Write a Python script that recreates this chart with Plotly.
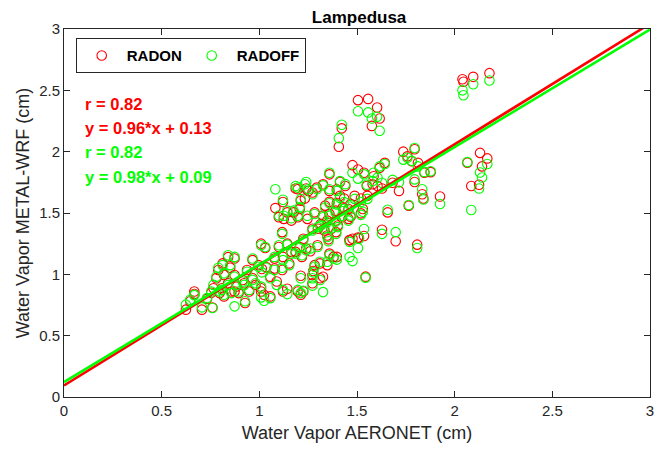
import plotly.graph_objects as go

# Water vapor (cm): AERONET observation vs METAL-WRF runs
aeronet = [2.04, 2.045, 2.095, 2.178, 1.505, 1.557, 1.603, 1.616, 1.576, 1.422, 1.407,
           2.13, 2.167, 2.065, 2.14, 2.125, 2.085, 1.925,
           1.737, 1.795, 1.758, 1.78, 1.812, 1.795, 1.845, 1.877, 1.834, 1.84, 1.765, 1.808,
           1.698, 1.628, 1.657, 1.715, 1.682, 1.642, 1.616,
           1.477, 1.505, 1.536, 1.585, 1.58, 1.605, 1.55, 1.628, 1.553, 1.52, 1.488, 1.467,
           1.53, 1.52, 1.467, 1.536, 1.51, 1.462, 1.505, 1.462, 1.477, 1.544,
           1.359, 1.413, 1.44, 1.397, 1.359, 1.326, 1.413, 1.434, 1.397, 1.359, 1.337, 1.428,
           1.456, 1.391, 1.359, 1.326, 1.423, 1.391, 1.456, 1.348, 1.315, 1.402, 1.369, 1.333,
           1.393, 1.348, 1.354, 1.359, 1.38, 1.31, 1.348, 1.397,
           1.197, 1.233, 1.212, 1.251, 1.272, 1.294, 1.197, 1.246, 1.283, 1.207, 1.272, 1.30,
           1.225, 1.207, 1.24, 1.261, 1.186, 1.218, 1.298, 1.283, 1.272, 1.212, 1.276, 1.197,
           1.212, 1.225, 1.272, 1.326, 1.311, 1.186, 1.24,
           1.082, 1.121, 1.10, 1.125, 1.164, 1.143, 1.175, 1.117, 1.10, 1.143, 1.164, 1.078,
           1.121, 1.153, 1.078, 1.117, 1.056, 1.089, 1.121, 1.143, 1.056, 1.035,
           1.009, 1.03, 0.965, 0.996, 1.013, 0.937, 0.965, 0.922, 0.981, 0.948, 1.009, 1.009,
           1.024, 0.927, 0.873,
           0.84, 0.873, 0.812, 0.851, 0.79, 0.78, 0.819, 0.873, 0.84, 0.808, 0.883, 0.857,
           0.797, 0.819, 0.894, 0.765, 0.754, 0.915,
           0.667, 0.667, 0.646, 0.624, 0.706, 0.732, 0.76]

radon = [2.59, 2.57, 2.61, 2.64, 2.42, 2.43, 2.36, 2.27, 2.21, 2.19, 2.04,
         1.99, 1.945, 1.91, 1.88, 1.73, 1.72, 1.635,
         2.00, 2.02, 1.962, 1.922, 1.909, 1.753, 1.828, 1.833, 1.653, 1.618, 1.559, 1.242,
         1.27, 1.363, 1.505, 1.68, 1.747, 1.909, 1.868,
         1.89, 1.855, 1.828, 1.80, 1.734, 1.72, 1.72, 1.70, 1.64, 1.618, 1.64, 1.573,
         1.532, 1.497, 1.47, 1.312, 1.296, 1.277, 1.30, 1.28, 1.29, 0.981,
         1.815, 1.753, 1.72, 1.694, 1.68, 1.734, 1.64, 1.618, 1.581, 1.591, 1.56, 1.546,
         1.532, 1.519, 1.492, 1.478, 1.465, 1.438, 1.452, 1.438, 1.411, 1.398, 1.371, 1.358,
         1.344, 1.317, 1.285, 1.169, 1.142, 1.089, 1.075, 1.142,
         1.694, 1.618, 1.60, 1.68, 1.667, 1.707, 1.465, 1.452, 1.505, 1.532, 1.371, 1.371,
         1.29, 1.223, 1.21, 1.188, 1.183, 1.142, 1.237, 1.075, 0.995, 0.989, 1.027, 0.86,
         0.833, 0.86, 0.927, 0.98, 0.968, 1.70, 1.70,
         1.54, 1.59, 1.465, 1.452, 1.438, 1.505, 1.505, 1.344, 1.223, 1.25, 1.183, 1.129,
         1.142, 1.089, 1.048, 1.035, 0.981, 0.941, 0.86, 0.882, 0.82, 1.06,
         1.25, 1.215, 1.116, 1.075, 1.043, 1.035, 0.968, 0.927, 0.914, 0.86, 0.887, 0.86,
         0.833, 0.766, 0.86,
         1.14, 1.129, 1.089, 1.054, 1.035, 0.968, 0.995, 0.995, 0.927, 0.887, 0.90, 0.86,
         0.847, 0.82, 0.847, 0.887, 0.85, 0.954,
         0.86, 0.84, 0.78, 0.712, 0.712, 0.80, 0.73]

radoff = [2.50, 2.46, 2.55, 2.58, 2.33, 2.32, 2.285, 2.17, 2.27, 2.22, 2.11,
          1.83, 1.90, 1.915, 1.79, 1.70, 1.525, 1.573,
          1.935, 2.03, 1.95, 1.925, 1.88, 1.774, 1.835, 1.84, 1.694, 1.61, 1.565, 1.215,
          1.344, 1.33, 1.527, 1.75, 1.77, 1.90, 1.88,
          1.828, 1.78, 1.815, 1.828, 1.76, 1.788, 1.73, 1.747, 1.615, 1.59, 1.615, 1.565,
          1.51, 1.485, 1.48, 1.37, 1.29, 1.265, 1.215, 1.142, 1.108, 0.973,
          1.828, 1.76, 1.735, 1.68, 1.694, 1.725, 1.625, 1.59, 1.57, 1.58, 1.545, 1.53,
          1.52, 1.505, 1.478, 1.465, 1.478, 1.43, 1.438, 1.425, 1.398, 1.385, 1.376, 1.371,
          1.33, 1.304, 1.27, 1.156, 1.129, 1.102, 1.102, 1.12,
          1.707, 1.734, 1.613, 1.694, 1.653, 1.694, 1.478, 1.478, 1.492, 1.546, 1.358, 1.385,
          1.277, 1.215, 1.196, 1.21, 1.169, 1.156, 1.223, 1.062, 0.968, 0.968, 1.016, 0.873,
          0.847, 0.866, 0.908, 0.855, 0.954, 1.72, 1.753,
          1.694, 1.608, 1.48, 1.478, 1.457, 1.519, 1.519, 1.33, 1.237, 1.242, 1.169, 1.142,
          1.116, 1.075, 1.035, 1.054, 0.968, 0.914, 0.873, 0.839, 0.806, 1.054,
          1.237, 1.223, 1.129, 1.062, 1.016, 1.021, 0.954, 0.914, 0.927, 0.873, 0.90, 0.812,
          0.785, 0.78, 0.739,
          1.156, 1.142, 1.075, 1.075, 1.054, 0.981, 1.008, 0.981, 0.914, 0.873, 0.914, 0.847,
          0.86, 0.833, 0.86, 0.914, 0.86, 0.941,
          0.833, 0.83, 0.793, 0.753, 0.731, 0.806, 0.726]

series_names = ["RADON", "RADOFF"]
series_colors = ["#ff0000", "#00ff00"]
# regression lines as drawn in the figure: (slope, intercept)
fit_lines = [(0.983, 0.094), (0.958, 0.122)]
fit_x = [0, 3]
stats_text = ["r = 0.82", "y = 0.96*x + 0.13", "r = 0.82", "y = 0.98*x + 0.09"]
stats_colors = ["#ff0000", "#ff0000", "#00ff00", "#00ff00"]
stats_y = [2.39, 2.19, 1.995, 1.79]
ticks = [0, 0.5, 1, 1.5, 2, 2.5, 3]
tick_labels = ["0", "0.5", "1", "1.5", "2", "2.5", "3"]

FONT = "Liberation Sans, Arial"

fig = go.Figure()
for name, ys, col in zip(series_names, [radon, radoff], series_colors):
    fig.add_trace(go.Scatter(
        x=aeronet, y=ys, mode="markers", name="<b>%s</b>" % name,
        marker=dict(symbol="circle-open", size=9.5, color=col, line=dict(width=1.1, color=col)),
    ))
for (m, b), col in zip(fit_lines, series_colors):
    fig.add_trace(go.Scatter(
        x=fit_x, y=[m * v + b for v in fit_x], mode="lines",
        line=dict(color=col, width=2.6), showlegend=False, hoverinfo="skip",
    ))

for t, c, yv in zip(stats_text, stats_colors, stats_y):
    fig.add_annotation(
        x=0.095, xref="x", y=yv, yref="y", text="<b>%s</b>" % t,
        showarrow=False, xanchor="left", yanchor="middle",
        font=dict(family=FONT, size=16.5, color=c),
    )

axis_common = dict(
    range=[0, 3], tickvals=ticks, ticktext=tick_labels, showgrid=False, zeroline=False,
    showline=True, linecolor="#262626", linewidth=1, mirror="allticks",
    ticks="inside", ticklen=6, tickcolor="#262626",
    tickfont=dict(family=FONT, size=15, color="#262626"),
)
fig.update_xaxes(**axis_common, title=dict(text="Water Vapor AERONET (cm)", standoff=8,
                 font=dict(family=FONT, size=18, color="#262626")))
fig.update_yaxes(**axis_common, title=dict(text="Water Vapor METAL-WRF (cm)", standoff=4,
                 font=dict(family=FONT, size=18, color="#262626")))

fig.update_layout(
    width=665, height=451,
    margin=dict(l=64, r=11, t=29, b=52),
    paper_bgcolor="white", plot_bgcolor="white",
    title=dict(text="<b>Lampedusa</b>", x=0.54, xanchor="center", y=0.963, yanchor="middle",
               font=dict(family=FONT, size=17, color="black")),
    legend=dict(orientation="h", x=0.02, y=0.975, xanchor="left", yanchor="top",
                bordercolor="#262626", borderwidth=1, bgcolor="white",
                font=dict(family=FONT, size=15, color="black"),
                itemwidth=40, tracegroupgap=0),
    showlegend=True,
)

fig.write_html("out.html")
